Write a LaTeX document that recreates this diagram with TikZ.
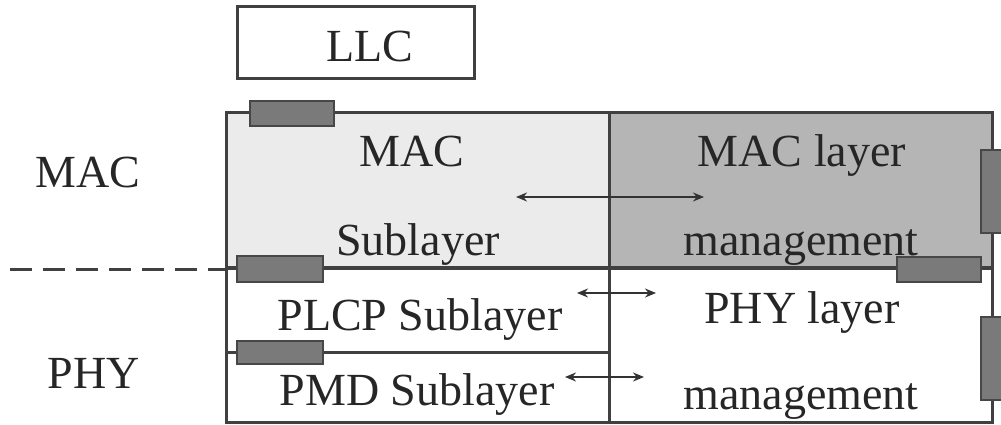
\documentclass[tikz,border=0pt]{standalone}
\usepackage{fontspec}
\setmainfont{Liberation Serif}
\usetikzlibrary{arrows.meta}

\tikzset{
    frame/.style={draw=black!75, line width=3pt},
    tab/.style={draw=black!72, fill=black!52, line width=2pt},
    lbl/.style={font=\fontsize{46}{50}\selectfont, text=black!85, inner sep=0pt, anchor=base},
    biarrow/.style={{Stealth[length=11pt,width=9pt]}-{Stealth[length=11pt,width=9pt]}, line width=2pt, draw=black!80},
}

\begin{document}
\begin{tikzpicture}[x=1pt,y=-1pt]
    \useasboundingbox (0,0) rectangle (1001,425);
    \fill[black!8] (226,113) rectangle (609,268);
    \fill[black!29] (609,113) rectangle (992,268);
    \draw[frame] (237,7) rectangle (474,79);
    \draw[frame] (226,113) rectangle (992,422);
    \draw[frame] (609,113) -- (609,422);
    \draw[frame] (226,352) -- (609,352);
    \draw[frame, line width=3.5pt] (226,268) -- (992,268);
    \draw[frame, dash pattern=on 22pt off 11pt] (10,269) -- (226,269);
    \foreach \xa/\ya/\xb/\yb in {250/101/334/126, 237/256/323/282, 237/341/323/364,
                                 897/257/981/282, 981/150/1004/233, 981/317/1004/400}
        \draw[tab] (\xa,\ya) rectangle (\xb,\yb);
    \node[lbl] (llc) at (370,62) {LLC};
    \node[lbl] (maclayer) at (88,187) {MAC};
    \node[lbl] (phylayer) at (94,388) {PHY};
    \node[lbl] (macsub) at (412,167) {MAC};
    \node[lbl] (macsub2) at (418,255) {Sublayer};
    \node[lbl] (macmgmt) at (802,167) {MAC layer};
    \node[lbl] (macmgmt2) at (801,255) {management};
    \node[lbl] (plcp) at (420,330) {PLCP Sublayer};
    \node[lbl] (pmd) at (417,405) {PMD Sublayer};
    \node[lbl] (phymgmt) at (802,323) {PHY layer};
    \node[lbl] (phymgmt2) at (801,409) {management};
    \coordinate (macL) at (516,197);
    \coordinate (macR) at (704,197);
    \coordinate (plcpL) at (577,293);
    \coordinate (plcpR) at (656,293);
    \coordinate (pmdL) at (565,377);
    \coordinate (pmdR) at (644,377);
    \draw[biarrow] (macL) -- (macR);
    \draw[biarrow] (plcpL) -- (plcpR);
    \draw[biarrow] (pmdL) -- (pmdR);
\end{tikzpicture}
\end{document}
